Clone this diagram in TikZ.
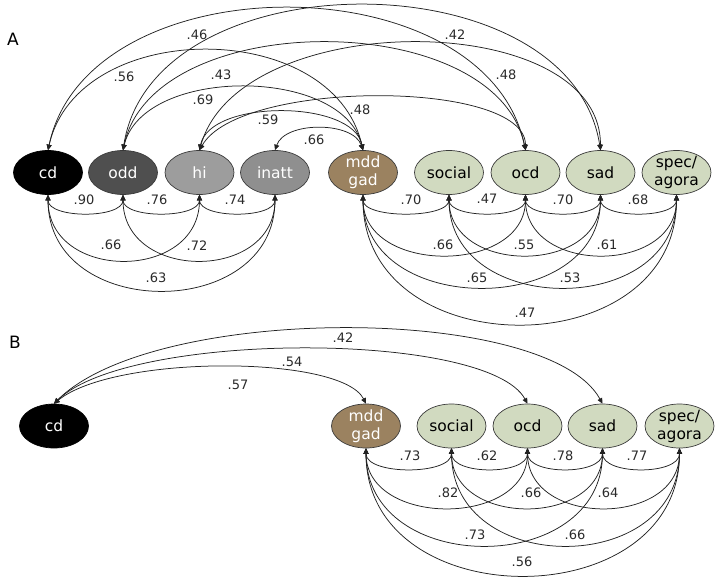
\documentclass[tikz,border=0pt]{standalone}
\usepackage{fontspec}
\setmainfont{DejaVu Sans}
\usetikzlibrary{arrows.meta,calc,shapes.geometric}
\definecolor{oddc}{HTML}{4F4F4F}
\definecolor{hic}{HTML}{9D9D9D}
\definecolor{inattc}{HTML}{8F8F8F}
\definecolor{mddc}{HTML}{9B8260}
\definecolor{grnc}{HTML}{D1DAC0}
\definecolor{edgec}{HTML}{3A3A3A}
\definecolor{linec}{HTML}{222222}
\definecolor{lblc}{HTML}{2A2A2A}
\begin{document}
\begin{tikzpicture}[x=1pt,y=-1pt,
  lv/.style={ellipse,draw=edgec,line width=0.7pt,minimum width=69pt,minimum height=44pt,
    inner xsep=0pt,inner ysep=-2.5pt,align=center,font=\fontsize{15.5}{18}\selectfont},
  darkv/.style={lv,text=white},
  lightv/.style={lv,fill=grnc,text=black},
  lbl/.style={font=\fontsize{13}{15}\selectfont,text=lblc,inner sep=0pt},
  panel/.style={font=\fontsize{17}{20}\selectfont,inner sep=0pt},
  corr/.style={draw=linec,line width=0.75pt,{Triangle[length=5.5pt,width=5pt]}-{Triangle[length=5.5pt,width=5pt]}}
]
\useasboundingbox (0,0) rectangle (721,584);

% ---------- Panel A ----------
\node[panel] (pA) at (13,39) {A};
\node[darkv,fill=black,draw=black] (cd) at (48,172.5) {cd};
\node[darkv,fill=oddc] (odd) at (123,172.5) {odd};
\node[darkv,fill=hic] (hi) at (199.5,172.5) {hi};
\node[darkv,fill=inattc] (inatt) at (275,172.5) {inatt};
\node[darkv,fill=mddc] (mdd) at (363,172.5) {mdd\\gad};
\node[lightv] (social) at (449,172.5) {social};
\node[lightv] (ocd) at (525.5,172.5) {ocd};
\node[lightv] (sad) at (600.5,172.5) {sad};
\node[lightv] (spec) at (676.5,172.5) {spec/\\agora};

% top arcs
\draw[corr] (cd.north) .. controls ($(cd.north)+(40,-189)$) and ($(ocd.north)+(-40,-189)$) .. (ocd.north);
\draw[corr] (odd.north) .. controls ($(odd.north)+(30,-193)$) and ($(sad.north)+(-30,-193)$) .. (sad.north);
\draw[corr] (cd.north) .. controls ($(cd.north)+(30,-133)$) and ($(mdd.north)+(-30,-133)$) .. (mdd.north);
\draw[corr] (odd.north) .. controls ($(odd.north)+(30,-143)$) and ($(ocd.north)+(-30,-143)$) .. (ocd.north);
\draw[corr] (odd.north) .. controls ($(odd.north)+(20,-84)$) and ($(mdd.north)+(-20,-84)$) .. (mdd.north);
\draw[corr] (hi.north) .. controls ($(hi.north)+(40,-143)$) and ($(sad.north)+(0,-143)$) .. (sad.north);
\draw[corr] (hi.north) .. controls ($(hi.north)+(40,-71)$) and ($(ocd.north)+(0,-71)$) .. (ocd.north);
\draw[corr] (hi.north) .. controls ($(hi.north)+(10,-51)$) and ($(mdd.north)+(-10,-51)$) .. (mdd.north);
\draw[corr] (inatt.north) .. controls ($(inatt.north)+(10,-29)$) and ($(mdd.north)+(-10,-29)$) .. (mdd.north);

\node[lbl] (a1) at (197,35) {.46};
\node[lbl] (a2) at (124,77) {.56};
\node[lbl] (a3) at (221,75) {.43};
\node[lbl] (a4) at (203,100) {.69};
\node[lbl] (a5) at (268,120) {.59};
\node[lbl] (a6) at (314,140) {.66};
\node[lbl] (a7) at (360,110) {.48};
\node[lbl] (a8) at (455,35) {.42};
\node[lbl] (a9) at (506,75) {.48};

% bottom arcs, left group
\draw[corr] (cd.south) .. controls ($(cd.south)+(0,24)$) and ($(odd.south)+(0,24)$) .. (odd.south);
\draw[corr] (odd.south) .. controls ($(odd.south)+(0,24)$) and ($(hi.south)+(0,24)$) .. (hi.south);
\draw[corr] (hi.south) .. controls ($(hi.south)+(0,24)$) and ($(inatt.south)+(0,24)$) .. (inatt.south);
\draw[corr] (cd.south) .. controls ($(cd.south)+(0,87)$) and ($(hi.south)+(0,87)$) .. (hi.south);
\draw[corr] (odd.south) .. controls ($(odd.south)+(0,87)$) and ($(inatt.south)+(0,87)$) .. (inatt.south);
\draw[corr] (cd.south) .. controls ($(cd.south)+(0,127)$) and ($(inatt.south)+(0,127)$) .. (inatt.south);

\node[lbl] (b1) at (84,200) {.90};
\node[lbl] (b2) at (157,200) {.76};
\node[lbl] (b3) at (235,200) {.74};
\node[lbl] (b4) at (111,245) {.66};
\node[lbl] (b5) at (197,246) {.72};
\node[lbl] (b6) at (156,278) {.63};

% bottom arcs, right group
\draw[corr] (mdd.south) .. controls ($(mdd.south)+(0,24)$) and ($(social.south)+(0,24)$) .. (social.south);
\draw[corr] (social.south) .. controls ($(social.south)+(0,24)$) and ($(ocd.south)+(0,24)$) .. (ocd.south);
\draw[corr] (ocd.south) .. controls ($(ocd.south)+(0,24)$) and ($(sad.south)+(0,24)$) .. (sad.south);
\draw[corr] (sad.south) .. controls ($(sad.south)+(0,24)$) and ($(spec.south)+(0,24)$) .. (spec.south);
\draw[corr] (mdd.south) .. controls ($(mdd.south)+(0,80)$) and ($(ocd.south)+(0,80)$) .. (ocd.south);
\draw[corr] (social.south) .. controls ($(social.south)+(0,80)$) and ($(sad.south)+(0,80)$) .. (sad.south);
\draw[corr] (ocd.south) .. controls ($(ocd.south)+(0,80)$) and ($(spec.south)+(0,80)$) .. (spec.south);
\draw[corr] (mdd.south) .. controls ($(mdd.south)+(0,123)$) and ($(sad.south)+(0,123)$) .. (sad.south);
\draw[corr] (social.south) .. controls ($(social.south)+(0,123)$) and ($(spec.south)+(0,123)$) .. (spec.south);
\draw[corr] (mdd.south) .. controls ($(mdd.south)+(0,172)$) and ($(spec.south)+(0,172)$) .. (spec.south);

\node[lbl] (c1) at (411,200) {.70};
\node[lbl] (c2) at (487,199) {.47};
\node[lbl] (c3) at (563,200) {.70};
\node[lbl] (c4) at (638,200) {.68};
\node[lbl] (c5) at (443,245) {.66};
\node[lbl] (c6) at (524,245) {.55};
\node[lbl] (c7) at (607,245) {.61};
\node[lbl] (c8) at (477,278) {.65};
\node[lbl] (c9) at (570,278) {.53};
\node[lbl] (c10) at (525,313) {.47};

% ---------- Panel B ----------
\node[panel] (pB) at (15,342) {B};
\node[darkv,fill=black,draw=black] (bcd) at (54,426) {cd};
\node[darkv,fill=mddc] (bmdd) at (366,426) {mdd\\gad};
\node[lightv] (bsocial) at (451.5,426) {social};
\node[lightv] (bocd) at (527.5,426) {ocd};
\node[lightv] (bsad) at (602.5,426) {sad};
\node[lightv] (bspec) at (679.5,426) {spec/\\agora};

\draw[corr] (bcd.north) .. controls ($(bcd.north)+(100,-100)$) and ($(bsad.north)+(-55,-100)$) .. (bsad.north);
\draw[corr] (bcd.north) .. controls ($(bcd.north)+(75,-73)$) and ($(bocd.north)+(-40,-73)$) .. (bocd.north);
\draw[corr] (bcd.north) .. controls ($(bcd.north)+(60,-49)$) and ($(bmdd.north)+(-25,-49)$) .. (bmdd.north);

\node[lbl] (d1) at (343,338) {.42};
\node[lbl] (d2) at (292,362) {.54};
\node[lbl] (d3) at (238,385) {.57};

\draw[corr] (bmdd.south) .. controls ($(bmdd.south)+(0,27)$) and ($(bsocial.south)+(0,27)$) .. (bsocial.south);
\draw[corr] (bsocial.south) .. controls ($(bsocial.south)+(0,27)$) and ($(bocd.south)+(0,27)$) .. (bocd.south);
\draw[corr] (bocd.south) .. controls ($(bocd.south)+(0,27)$) and ($(bsad.south)+(0,27)$) .. (bsad.south);
\draw[corr] (bsad.south) .. controls ($(bsad.south)+(0,27)$) and ($(bspec.south)+(0,27)$) .. (bspec.south);
\draw[corr] (bmdd.south) .. controls ($(bmdd.south)+(0,79)$) and ($(bocd.south)+(0,79)$) .. (bocd.south);
\draw[corr] (bsocial.south) .. controls ($(bsocial.south)+(0,79)$) and ($(bsad.south)+(0,79)$) .. (bsad.south);
\draw[corr] (bocd.south) .. controls ($(bocd.south)+(0,79)$) and ($(bspec.south)+(0,79)$) .. (bspec.south);
\draw[corr] (bmdd.south) .. controls ($(bmdd.south)+(0,129)$) and ($(bsad.south)+(0,129)$) .. (bsad.south);
\draw[corr] (bsocial.south) .. controls ($(bsocial.south)+(0,129)$) and ($(bspec.south)+(0,129)$) .. (bspec.south);
\draw[corr] (bmdd.south) .. controls ($(bmdd.south)+(0,169)$) and ($(bspec.south)+(0,169)$) .. (bspec.south);

\node[lbl] (e1) at (410,456) {.73};
\node[lbl] (e2) at (487,456) {.62};
\node[lbl] (e3) at (563,456) {.78};
\node[lbl] (e4) at (637,456) {.77};
\node[lbl] (e5) at (448,493) {.82};
\node[lbl] (e6) at (531,493) {.66};
\node[lbl] (e7) at (608,493) {.64};
\node[lbl] (e8) at (475,535) {.73};
\node[lbl] (e9) at (575,535) {.66};
\node[lbl] (e10) at (522,562) {.56};
\end{tikzpicture}
\end{document}
